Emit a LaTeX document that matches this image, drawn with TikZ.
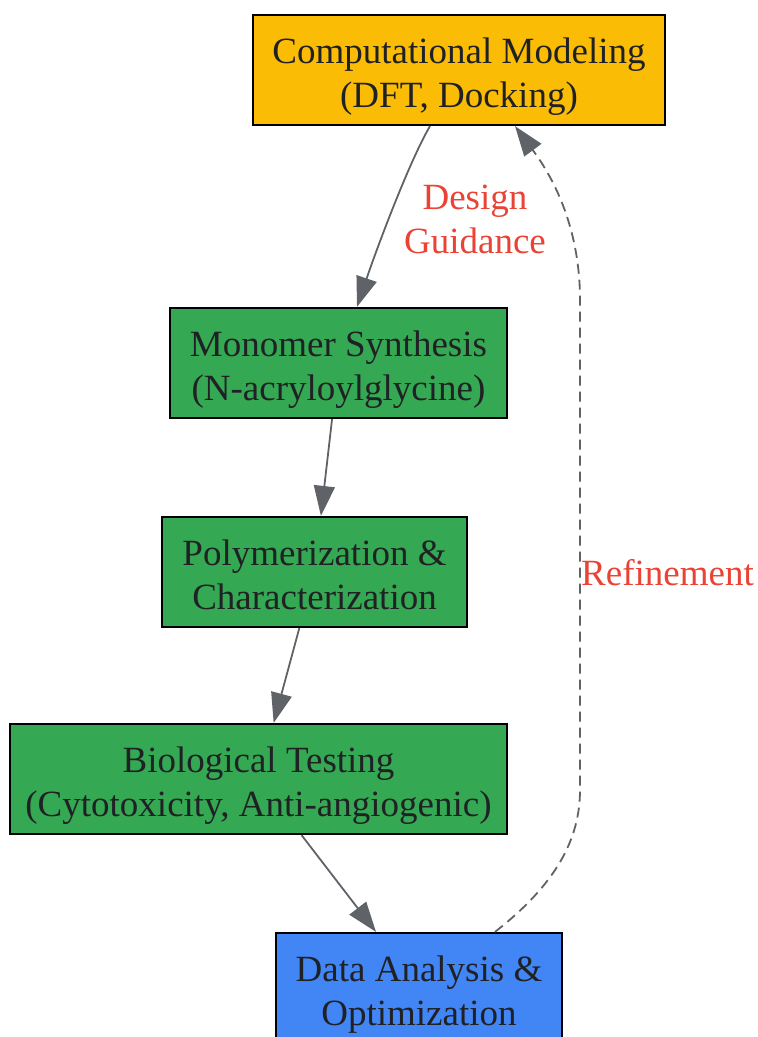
\documentclass[tikz,border=0pt]{standalone}
\usepackage{fontspec}
\setmainfont{Liberation Serif}
\usetikzlibrary{arrows.meta}
\definecolor{modelyellow}{HTML}{FBBC05}
\definecolor{labgreen}{HTML}{34A853}
\definecolor{dataBlue}{HTML}{4285F4}
\definecolor{noteRed}{HTML}{EA4335}
\definecolor{edgeGray}{HTML}{5F6368}
\definecolor{inkDark}{HTML}{202124}
\begin{document}
\begin{tikzpicture}[x=1pt,y=-1pt,>={Triangle[length=30pt,width=21pt]},auto,
    step box/.style={rectangle,draw=black,line width=2.2pt,text=inkDark,align=center,
        minimum height=110pt,text height=82pt,text depth=8pt,font=\fontsize{37}{44}\selectfont},
    flow/.style={->,draw=edgeGray,line width=1.8pt},
    note/.style={text=noteRed,align=center,font=\fontsize{37}{44}\selectfont}]

            \useasboundingbox (0,0) rectangle (758,1037);

            \node[step box, fill=modelyellow, minimum width=412pt] (model) at (459,70) {Computational Modeling\\(DFT, Docking)};
            \node[step box, fill=labgreen, minimum width=337pt] (mono) at (338.5,363) {Monomer Synthesis\\(N-acryloylglycine)};
            \node[step box, fill=labgreen, minimum width=305pt] (poly) at (314.5,572) {Polymerization \&\\Characterization};
            \node[step box, fill=labgreen, minimum width=497pt] (bio) at (258.5,779) {Biological Testing\\(Cytotoxicity, Anti-angiogenic)};
            \node[step box, fill=dataBlue, minimum width=286pt] (data) at (419,988) {Data Analysis \&\\Optimization};

            \draw[flow] ([xshift=-29pt]model.south) .. controls (410,160) and (378,245) .. ([xshift=18.5pt]mono.north);
            \node[note] (design) at (475,219) {Design\\Guidance};

            \draw[flow] (mono) to (poly);
            \draw[flow] (poly) to (bio);
            \draw[flow] (bio) to (data);

            \draw[flow, dash pattern=on 10pt off 6pt] ([xshift=76pt]data.north) .. controls (555,885) and (580,840) .. (580,790)
                -- (580,300) .. controls (580,230) and (555,180) .. ([xshift=56pt]model.south);
            \node[note, anchor=west, inner sep=1pt] (refine) at (580,573) {Refinement};

            ;
        \end{tikzpicture}
\end{document}
